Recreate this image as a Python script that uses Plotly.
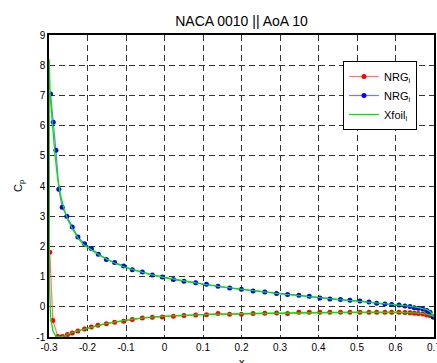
import plotly.graph_objects as go

# NRG lower surface (red)
nrg_low_x = [-0.298, -0.290, -0.277, -0.268, -0.264, -0.252, -0.2397, -0.225, -0.2077, -0.190, -0.173,
             -0.151, -0.1296, -0.106, -0.0836, -0.0576, -0.0316, -0.0056, 0.023, 0.0506, 0.081, 0.109,
             0.139, 0.169, 0.1998, 0.230, 0.2605, 0.291, 0.3195, 0.349, 0.376, 0.4035, 0.4295, 0.457,
             0.4815, 0.5075, 0.531, 0.551, 0.5725, 0.590, 0.609, 0.6245, 0.6376, 0.6488, 0.659, 0.6706,
             0.681, 0.6896, 0.698]
nrg_low_cp = [1.81, -0.45, -0.98, -1.00, -0.98, -0.92, -0.87, -0.80, -0.735, -0.67, -0.61,
              -0.56, -0.51, -0.48, -0.42, -0.37, -0.35, -0.34, -0.31, -0.29, -0.27, -0.26,
              -0.225, -0.25, -0.25, -0.225, -0.21, -0.205, -0.22, -0.18, -0.18, -0.18, -0.18, -0.18,
              -0.18, -0.18, -0.18, -0.18, -0.18, -0.18, -0.18, -0.19, -0.20, -0.21, -0.22, -0.24,
              -0.27, -0.29, -0.34]

# NRG upper surface (blue)
nrg_up_x = [-0.296, -0.289, -0.282, -0.2745, -0.2657, -0.2537, -0.2397, -0.225, -0.2077, -0.190,
            -0.172, -0.151, -0.1296, -0.1062, -0.0836, -0.0576, -0.0316, -0.0056, 0.023, 0.0506,
            0.081, 0.109, 0.139, 0.1694, 0.1998, 0.230, 0.2605, 0.291, 0.3195, 0.349, 0.376, 0.4035,
            0.4295, 0.457, 0.4815, 0.5075, 0.531, 0.551, 0.5725, 0.590, 0.609, 0.6245, 0.6376,
            0.6488, 0.659, 0.6706, 0.681, 0.6896, 0.698]
nrg_up_cp = [7.05, 6.11, 5.18, 3.89, 3.30, 3.00, 2.64, 2.31, 2.09, 1.93,
             1.74, 1.57, 1.47, 1.35, 1.23, 1.15, 1.05, 0.99, 0.90, 0.85,
             0.80, 0.745, 0.68, 0.62, 0.58, 0.52, 0.49, 0.44, 0.41, 0.38, 0.35, 0.29,
             0.26, 0.24, 0.215, 0.19, 0.16, 0.116, 0.09, 0.08, 0.06, 0.03, 0.006,
             -0.03, -0.05, -0.07, -0.12, -0.18, -0.34]

# Xfoil (green), lower surface TE->LE then upper surface LE->TE
xfoil_x = [0.70, 0.69, 0.68, 0.66, 0.63, 0.60, 0.50, 0.40, 0.30, 0.20, 0.10, 0.05, 0.00, -0.05,
           -0.10, -0.15, -0.20, -0.23, -0.25, -0.262, -0.272, -0.282, -0.290, -0.296, -0.299,
           -0.2995, -0.297, -0.292, -0.285, -0.278, -0.270, -0.260, -0.250, -0.240, -0.225,
           -0.210, -0.190, -0.170, -0.150, -0.130, -0.100, -0.070, -0.040, 0.00, 0.05, 0.10,
           0.15, 0.20, 0.25, 0.30, 0.35, 0.40, 0.45, 0.50, 0.55, 0.60, 0.63, 0.66, 0.68, 0.69, 0.70]
xfoil_cp = [-0.33, -0.27, -0.24, -0.21, -0.19, -0.18, -0.18, -0.19, -0.21, -0.23, -0.26, -0.28, -0.31,
            -0.36, -0.44, -0.55, -0.70, -0.81, -0.90, -0.97, -1.00, -0.97, -0.80, -0.30, 0.80,
            8.20, 7.00, 6.10, 5.10, 4.30, 3.70, 3.20, 2.85, 2.60, 2.28,
            2.05, 1.88, 1.72, 1.58, 1.45, 1.30, 1.18, 1.08, 0.97, 0.85, 0.75,
            0.66, 0.58, 0.50, 0.43, 0.37, 0.30, 0.24, 0.19, 0.13, 0.07, 0.03, -0.03, -0.09, -0.15, -0.33]

x_ticks = [-0.3, -0.2, -0.1, 0, 0.1, 0.2, 0.3, 0.4, 0.5, 0.6, 0.7]
x_tick_labels = ["-0.3", "-0.2", "-0.1", "0", "0.1", "0.2", "0.3", "0.4", "0.5", "0.6", "0.7"]
y_ticks = [-1, 0, 1, 2, 3, 4, 5, 6, 7, 8, 9]
y_tick_labels = ["-1", "0", "1", "2", "3", "4", "5", "6", "7", "8", "9"]

FONT = "Liberation Sans, Arial, Helvetica, sans-serif"

fig = go.Figure()
fig.add_trace(go.Scatter(x=nrg_low_x, y=nrg_low_cp, mode="lines+markers", name="NRG<sub>i</sub>",
                         line=dict(color="rgba(255,60,60,0.7)", width=1.2),
                         marker=dict(color="#ff0000", size=5)))
fig.add_trace(go.Scatter(x=nrg_up_x, y=nrg_up_cp, mode="lines+markers", name="NRG<sub>i</sub>",
                         line=dict(color="rgba(60,60,255,0.7)", width=1.2),
                         marker=dict(color="#0000ff", size=5)))
fig.add_trace(go.Scatter(x=xfoil_x, y=xfoil_cp, mode="lines", name="Xfoil<sub>i</sub>",
                         line=dict(color="#00e600", width=1.3)))

axis_common = dict(showline=True, linecolor="black", linewidth=1.5, mirror=True,
                   showgrid=True, gridcolor="#333333", gridwidth=1, griddash="6px,4px",
                   zeroline=False, ticks="", ticklabeloverflow="allow", automargin=False,
                   tickfont=dict(family=FONT, size=10, color="black"))

fig.update_xaxes(range=[-0.3, 0.7], tickmode="array", tickvals=x_ticks, ticktext=x_tick_labels,
                 **axis_common)
fig.update_yaxes(range=[-1, 9], tickmode="array", tickvals=y_ticks, ticktext=y_tick_labels,
                 **axis_common)

fig.update_layout(
    width=437, height=363,
    margin=dict(l=49, r=3, t=35, b=26),
    paper_bgcolor="white", plot_bgcolor="white",
    title=dict(text="NACA 0010 || AoA 10", x=241.5 / 437, xanchor="center",
               y=(363 - 21) / 363, yanchor="middle", yref="container",
               font=dict(family=FONT, size=14, color="black")),
    showlegend=True,
    legend=dict(x=(343 - 49) / 385, y=(337 - 61) / 302, xanchor="left", yanchor="top",
                bgcolor="white", bordercolor="black", borderwidth=1,
                font=dict(family=FONT, size=11, color="black"), tracegroupgap=0),
    annotations=[
        dict(text="C<sub>p</sub>", xref="paper", yref="paper", x=(19 - 49) / 385, y=0.5,
             xanchor="center", yanchor="middle", textangle=-90, showarrow=False,
             font=dict(family=FONT, size=11, color="black")),
        dict(text="x", xref="paper", yref="paper", x=0.5, y=-26 / 302 + 1 / 302,
             xanchor="center", yanchor="middle", showarrow=False,
             font=dict(family=FONT, size=11, color="black")),
    ],
)

fig.write_html("out.html")
